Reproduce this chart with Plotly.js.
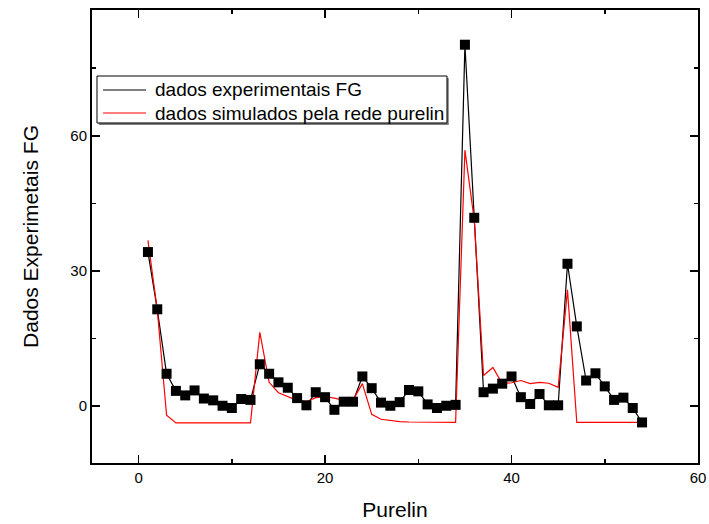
<!DOCTYPE html>
<html>
<head>
<meta charset="utf-8">
<script src="https://cdn.plot.ly/plotly-3.0.1.min.js"></script>
<style>
html,body{margin:0;padding:0;background:#fff;}
#chart{width:709px;height:524px;}
</style>
</head>
<body>
<div id="chart"></div>
<script>
// Sample index (Purelin)
const samples = [1,2,3,4,5,6,7,8,9,10,11,12,13,14,15,16,17,18,19,20,21,22,23,24,25,26,27,28,29,30,31,32,33,34,35,36,37,38,39,40,41,42,43,44,45,46,47,48,49,50,51,52,53,54];
// Experimental FG data (black squares)
const experimental = [34.2,21.5,7.2,3.4,2.4,3.5,1.7,1.3,0.1,-0.4,1.6,1.4,9.3,7.2,5.3,4.1,1.8,0.2,3.1,2.0,-0.8,1.0,1.0,6.6,4.0,0.8,0.1,0.9,3.6,3.3,0.4,-0.4,0.1,0.3,80.2,41.8,3.1,3.9,5.0,6.6,2.0,0.5,2.7,0.2,0.2,31.6,17.7,5.7,7.3,4.4,1.4,1.9,-0.4,-3.6];
// Simulated by purelin network (red line)
const simulated = [36.8,21.4,-2.0,-3.7,-3.7,-3.7,-3.7,-3.7,-3.7,-3.7,-3.7,-3.7,16.4,5.3,3.0,2.1,1.3,1.0,1.9,2.1,1.8,1.3,1.4,5.0,-1.8,-2.9,-3.2,-3.4,-3.5,-3.5,-3.6,-3.6,-3.6,-3.6,56.8,41.3,6.8,8.6,5.0,5.2,5.7,5.0,5.3,5.1,4.2,25.8,-3.6,-3.6,-3.6,-3.6,-3.6,-3.6,-3.6,-3.6];

const seriesNames = ['dados experimentais FG', 'dados simulados pela rede purelin'];
const seriesColors = ['#000000', '#ff0000'];

const xTickVals = [0,20,40,60];
const xTickText = ['0','20','40','60'];
const yTickVals = [0,30,60];
const yTickText = ['0','30','60'];

const FONT = 'Arial, "Liberation Sans", sans-serif';

const traces = [
  {x: samples, y: experimental, type:'scatter', mode:'lines', name:seriesNames[0],
   line:{color:seriesColors[0], width:1.2}},
  {x: samples, y: simulated, type:'scatter', mode:'lines', name:seriesNames[1],
   line:{color:seriesColors[1], width:1.2}},
  {x: samples, y: experimental, type:'scatter', mode:'markers', showlegend:false,
   marker:{symbol:'square', size:10, color:'#000000'}}
];

const axisCommon = {
  showline:true, linecolor:'#000', linewidth:2, mirror:'ticks',
  ticks:'inside', ticklen:8, tickwidth:1.5, tickcolor:'#000',
  showgrid:false, zeroline:false,
  tickfont:{family:FONT, size:15, color:'#000'}
};

// Legend box (drawn with paper-referenced shapes/annotations)
const lg = {x0:0.00825, x1:0.5858, y0:0.7506, y1:0.8543, rows:[0.8234, 0.7726],
            lx0:0.0182, lx1:0.0891, tx:0.1007};
const shapes = [
  {type:'rect', xref:'paper', yref:'paper', x0:lg.x0+0.003, x1:lg.x1+0.003, y0:lg.y0-0.0045, y1:lg.y1-0.0045,
   fillcolor:'#808080', line:{width:0}, layer:'above'},
  {type:'rect', xref:'paper', yref:'paper', x0:lg.x0, x1:lg.x1, y0:lg.y0, y1:lg.y1,
   fillcolor:'#ffffff', line:{color:'#000', width:1}, layer:'above'}
];
const annotations = [];
seriesNames.forEach((name, i) => {
  shapes.push({type:'line', xref:'paper', yref:'paper', x0:lg.lx0, x1:lg.lx1, y0:lg.rows[i], y1:lg.rows[i],
    line:{color:seriesColors[i], width:1.2}, layer:'above'});
  annotations.push({xref:'paper', yref:'paper', x:lg.tx, y:lg.rows[i], xanchor:'left', yanchor:'middle',
    text:name, showarrow:false, font:{family:FONT, size:19, color:'#000'}});
});

const layout = {
  width:709, height:524,
  margin:{l:92, r:11, t:10, b:61},
  paper_bgcolor:'#fff', plot_bgcolor:'#fff',
  font:{family:FONT, color:'#000'},
  showlegend:false,
  xaxis: Object.assign({}, axisCommon, {
    range:[-5,60], tickmode:'array', tickvals:xTickVals, ticktext:xTickText,
    minor:{dtick:10, tick0:0, ticks:'inside', ticklen:4, tickwidth:1.5, tickcolor:'#000', showgrid:false},
    title:{text:'Purelin', font:{family:FONT, size:21, color:'#000'}, standoff:17}
  }),
  yaxis: Object.assign({}, axisCommon, {
    range:[-12.6,87.9], tickmode:'array', tickvals:yTickVals, ticktext:yTickText,
    minor:{dtick:15, tick0:0, ticks:'inside', ticklen:4, tickwidth:1.5, tickcolor:'#000', showgrid:false},
    title:{text:'Dados Experimetais FG', font:{family:FONT, size:21, color:'#000'}, standoff:26}
  }),
  shapes: shapes,
  annotations: annotations
};

Plotly.newPlot('chart', traces, layout, {displayModeBar:false, staticPlot:true});
</script>
</body>
</html>
